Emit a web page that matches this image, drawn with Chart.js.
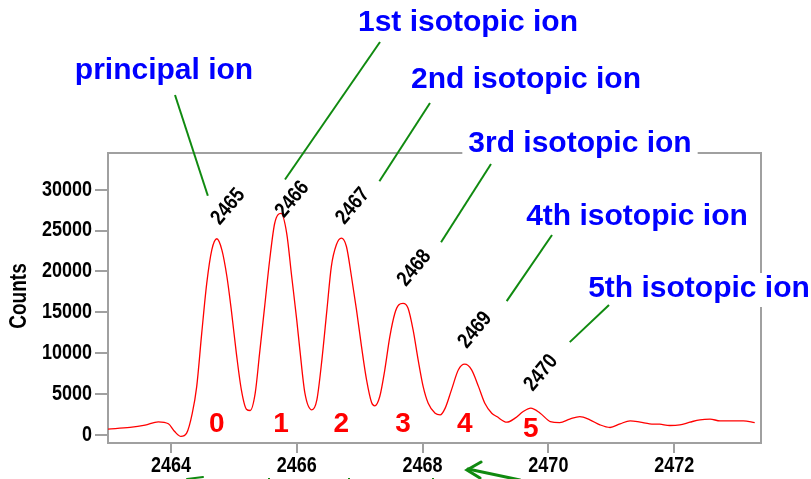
<!DOCTYPE html>
<html><head><meta charset="utf-8">
<script src="https://cdn.jsdelivr.net/npm/chart.js@4.4.1/dist/chart.umd.min.js"></script>
<style>html,body{margin:0;padding:0;background:#fff;}canvas{display:block;}</style>
</head><body>
<canvas id="c" width="811" height="479"></canvas>
<script>
// ---- data ----
const mzValues = [2463.00,2463.35,2463.59,2463.80,2463.96,2464.06,2464.16,2464.25,2464.34,2464.41,2464.49,2464.57,2464.65,2464.73,2464.81,2464.89,2464.96,2465.04,2465.12,2465.20,2465.26,2465.34,2465.41,2465.49,2465.57,2465.65,2465.75,2465.84,2465.92,2466.00,2466.05,2466.13,2466.24,2466.32,2466.40,2466.48,2466.55,2466.63,2466.71,2466.79,2466.87,2466.95,2467.03,2467.11,2467.19,2467.24,2467.32,2467.40,2467.48,2467.56,2467.62,2467.69,2467.77,2467.85,2467.93,2468.01,2468.09,2468.20,2468.28,2468.36,2468.46,2468.57,2468.67,2468.78,2468.89,2468.99,2469.10,2469.18,2469.34,2469.47,2469.60,2469.72,2469.87,2470.03,2470.18,2470.34,2470.50,2470.66,2470.82,2470.98,2471.14,2471.30,2471.46,2471.61,2471.77,2471.93,2472.09,2472.25,2472.41,2472.57,2472.73,2472.89,2473.10,2473.28];
const countValues = [700,900,1190,1590,1350,400,-200,200,2650,5900,12450,18570,22640,24000,22640,19380,15300,10000,5500,3140,2980,5100,10000,15700,21400,25900,27100,24700,19380,14080,10400,5100,3060,4280,9180,15300,20600,23260,24070,23050,19380,15300,10800,6730,3960,3550,4690,7960,12030,14890,15900,16100,15500,12850,9180,5900,3870,2650,2450,3270,5500,7960,8650,7960,5900,3870,2650,2240,1550,2040,2850,3270,2650,1630,1500,1920,2240,1840,1220,900,1350,1710,1550,1350,1300,1140,1220,1550,1840,1920,1710,1710,1710,1500];
const xTickValues = [2464,2466,2468,2470,2472];
const yTickValues = [0,5000,10000,15000,20000,25000,30000];
const peakMz = [2464.73,2465.75,2466.71,2467.69,2468.67,2469.72];
const peakCounts = [24000,27100,24070,16100,8650,3270];
const peakLabels = ['2465','2466','2467','2468','2469','2470'];
const isotopeNumbers = ['0','1','2','3','4','5'];
const ionNames = ['principal ion','1st isotopic ion','2nd isotopic ion','3rd isotopic ion','4th isotopic ion','5th isotopic ion'];
const yAxisTitle = 'Counts';

// ---- layout / style (pixels) ----
const GREY = '#a0a0a0';
const GREEN = '#108a10';
const AX_FONT = 'bold 18px "Liberation Sans", Arial, sans-serif';
const STRETCH = 1.18;   // the reference's bitmap font is taller than Arial
const labelOffsets = [[3,-13],[3,5],[3,-13],[3,-16],[2,-15],[2,-16]];
const nameBoxes = [
  {x:164,y:79,bg:false},{x:468,y:31,bg:false},{x:526,y:88,bg:false},
  {x:580,y:152,bg:true},{x:637,y:225,bg:false},{x:699,y:297,bg:true}];
const connStart = [[175,95],[380,42],[430,103],[491,164],[552,235],[609,305]];
const connEndOffset = [[-9,-43],[4,-34],[38,-57],[38,-61],[42,-63],[39,-66]];

function stretchedText(ctx,t,x,y,align,rot){
  ctx.save(); ctx.translate(x,y); if(rot) ctx.rotate(rot); ctx.scale(1,STRETCH);
  ctx.textAlign=align; ctx.fillText(t,0,0); ctx.restore();
}

const annot = {
  id:'annot',
  afterDraw(chart){
    const ctx=chart.ctx, xs=chart.scales.x, ys=chart.scales.y, a=chart.chartArea;
    ctx.save();
    ctx.strokeStyle=GREY; ctx.lineWidth=2;
    ctx.beginPath(); ctx.moveTo(a.left-1,a.top); ctx.lineTo(a.right,a.top); ctx.lineTo(a.right,a.bottom+1); ctx.stroke();
    // tick labels
    ctx.fillStyle='#000'; ctx.font=AX_FONT; ctx.textBaseline='middle';
    xTickValues.forEach(v=>stretchedText(ctx,String(v),xs.getPixelForValue(v),a.bottom+23,'center'));
    yTickValues.forEach(v=>stretchedText(ctx,String(v),92,ys.getPixelForValue(v),'right'));
    // y title
    ctx.font='bold 19px "Liberation Sans", Arial, sans-serif';
    ctx.save(); ctx.translate(20,296); ctx.rotate(-Math.PI/2); ctx.scale(1,1.22);
    ctx.textAlign='center'; ctx.textBaseline='middle'; ctx.fillText(yAxisTitle,0,0); ctx.restore();
    // ion names
    ctx.font='bold 30px "Liberation Sans", Arial, sans-serif';
    ctx.textAlign='center'; ctx.textBaseline='alphabetic';
    ionNames.forEach((t,i)=>{
      const b=nameBoxes[i]; const w=ctx.measureText(t).width;
      if(b.bg){ ctx.fillStyle='#fff'; ctx.fillRect(b.x-w/2-6,b.y-24,w+12,34); }
      ctx.fillStyle='#0000ff'; ctx.fillText(t,b.x,b.y);
    });
    // connectors
    ctx.strokeStyle=GREEN; ctx.lineWidth=2;
    peakMz.forEach((m,i)=>{
      const px=xs.getPixelForValue(m), py=ys.getPixelForValue(peakCounts[i]);
      ctx.beginPath(); ctx.moveTo(connStart[i][0],connStart[i][1]);
      ctx.lineTo(px+connEndOffset[i][0],py+connEndOffset[i][1]); ctx.stroke();
    });
    // rotated peak labels
    ctx.fillStyle='#000'; ctx.font='bold 18px "Liberation Sans", Arial, sans-serif'; ctx.textBaseline='alphabetic';
    peakMz.forEach((m,i)=>{
      const px=xs.getPixelForValue(m), py=ys.getPixelForValue(peakCounts[i]);
      stretchedText(ctx,peakLabels[i],px+labelOffsets[i][0],py+labelOffsets[i][1],'left',-50*Math.PI/180);
    });
    // isotope numbers
    ctx.fillStyle='#ff0000'; ctx.font='bold 28px "Liberation Sans", Arial, sans-serif'; ctx.textAlign='center'; ctx.textBaseline='middle';
    peakMz.forEach((m,i)=>{
      ctx.fillText(isotopeNumbers[i],xs.getPixelForValue(m),a.bottom-(i===5?14:19));
    });
    // partial green arrows at bottom edge
    ctx.strokeStyle=GREEN; ctx.lineWidth=3; ctx.lineCap='round';
    ctx.beginPath(); ctx.moveTo(520,480); ctx.lineTo(468,469); ctx.stroke();
    ctx.beginPath(); ctx.moveTo(481,462); ctx.lineTo(467,470); ctx.lineTo(480,478); ctx.stroke();
    ctx.lineWidth=2;
    ctx.beginPath(); ctx.moveTo(187,479); ctx.lineTo(203,477); ctx.stroke();
    [[268,478],[348,478],[432,478]].forEach(p=>{ctx.fillStyle=GREEN; ctx.fillRect(p[0],p[1],2,1);});
    ctx.restore();
  }
};

new Chart(document.getElementById('c'),{
  type:'line',
  data:{datasets:[{
    data: mzValues.map((m,i)=>({x:m,y:countValues[i]})),
    borderColor:'#ff0000', borderWidth:1.3, pointRadius:0, fill:false,
    cubicInterpolationMode:'monotone'
  }]},
  options:{
    responsive:false, animation:false, devicePixelRatio:1,
    layout:{padding:{top:153,right:50,left:0,bottom:0}},
    plugins:{legend:{display:false},tooltip:{enabled:false}},
    scales:{
      x:{type:'linear',min:2463,max:2473.38,
        afterBuildTicks:s=>{s.ticks=xTickValues.map(v=>({value:v}));},
        afterFit:s=>{s.height=36;},
        grid:{drawOnChartArea:false,drawTicks:true,tickLength:10,color:GREY,lineWidth:2},
        border:{display:true,color:GREY,width:2},
        ticks:{color:'rgba(0,0,0,0)',font:{size:18},padding:1,maxRotation:0,autoSkip:false,callback:v=>String(v)}
      },
      y:{type:'linear',min:-1000,max:34500,
        afterBuildTicks:s=>{s.ticks=yTickValues.map(v=>({value:v}));},
        afterFit:s=>{s.width=108;},
        grid:{drawOnChartArea:false,drawTicks:true,tickLength:13,color:GREY,lineWidth:2},
        border:{display:true,color:GREY,width:2},
        ticks:{color:'rgba(0,0,0,0)',font:{size:18},padding:2,callback:v=>String(v)}
      }
    }
  },
  plugins:[annot]
});
</script>
</body></html>
